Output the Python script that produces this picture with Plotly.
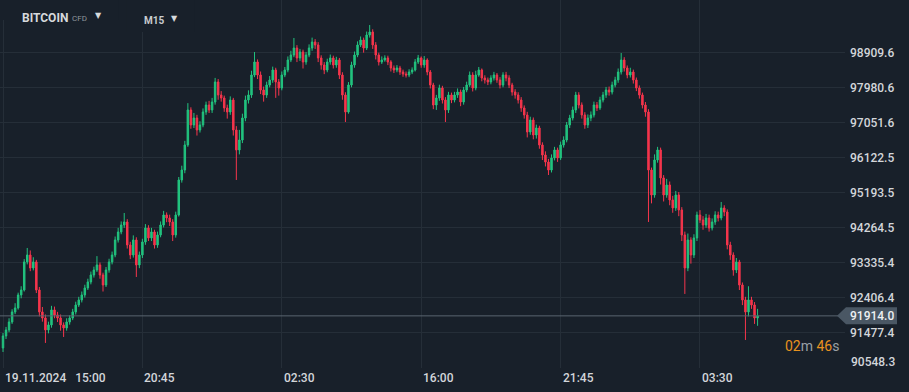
import plotly.graph_objects as go

# ---------------- data (BITCOIN CFD, M15) ----------------
opens = [91062, 91381, 91540, 91752, 92018, 92124, 92469, 92601, 93345, 93530,
         93185, 93345, 92601, 92018, 91858, 91540, 91673, 92071, 91938, 91858,
         91673, 91593, 91752, 91858, 92018, 92203, 92336, 92469, 92654, 92814,
         92999, 93132, 93265, 92999, 92734, 93132, 93345, 93530, 93928, 94141,
         94326, 94406, 93796, 93530, 93928, 93265, 93530, 93875, 94247, 93982,
         94141, 93796, 94061, 94326, 94592, 94512, 94406, 94061, 94592, 95521,
         95786, 96450, 97379, 96981, 97166, 96848, 96981, 97326, 97511, 97379,
         97591, 98122, 97777, 97697, 97432, 97326, 97644, 96848, 96317, 96582,
         97166, 97644, 97777, 98307, 98653, 98307, 97909, 97777, 98042, 98175,
         98440, 98122, 97962, 98307, 98440, 98706, 98838, 99024, 98759, 98918,
         98653, 98838, 99024, 99183, 99104, 98759, 98573, 98440, 98653, 98759,
         98573, 98706, 98307, 97777, 97326, 98042, 98573, 98838, 99104, 99236,
         99024, 99369, 99449, 99104, 98838, 98653, 98706, 98759, 98653, 98493,
         98440, 98493, 98387, 98334, 98307, 98387, 98440, 98653, 98759, 98573,
         98706, 98387, 98042, 97511, 97697, 97962, 97644, 97379, 97777, 97644,
         97777, 97856, 97591, 97909, 98042, 98307, 97962, 98307, 98440, 98228,
         98175, 98122, 98228, 98307, 98175, 98042, 98307, 98228, 98042, 97856,
         97777, 97644, 97432, 97246, 96795, 97113, 96715, 96901, 96450, 96184,
         95998, 95786, 96105, 96317, 96105, 96450, 96582, 96981, 97166, 97379,
         97777, 97511, 97246, 96981, 97166, 97246, 97511, 97432, 97644, 97777,
         97909, 97856, 98042, 98175, 98387, 98706, 98493, 98307, 98387, 98175,
         97962, 97777, 97511, 97326, 95786, 95123, 96052, 96317, 95574, 95123,
         95388, 94990, 94778, 95123, 94725, 94061, 93185, 93928, 93530, 93982,
         94592, 94459, 94326, 94512, 94247, 94406, 94592, 94512, 94778, 94671,
         93796, 93530, 93132, 93345, 92734, 92336, 92018, 92336, 92203, 91858]

highs = [91460, 91620, 91850, 92090, 92250, 92530, 92700, 93420, 93716, 93650,
         93470, 93400, 92680, 92150, 91950, 91760, 92180, 92160, 92020, 91950,
         91740, 91850, 91930, 92100, 92290, 92420, 92560, 92740, 92900, 93090,
         93220, 93500, 93330, 93060, 93210, 93430, 93620, 94020, 94250, 94420,
         94645, 94480, 93880, 94050, 94000, 93620, 93960, 94350, 94320, 94250,
         94200, 94150, 94420, 94700, 94660, 94600, 94480, 94680, 95600, 95900,
         96560, 97560, 97450, 97300, 97250, 97080, 97420, 97600, 97620, 97700,
         98230, 98200, 97880, 97760, 97520, 97740, 97700, 96950, 96850, 97280,
         97760, 97900, 98420, 98918, 98720, 98400, 98000, 98130, 98280, 98530,
         98500, 98200, 98400, 98520, 98800, 98950, 99290, 99100, 99000, 98980,
         98920, 99120, 99300, 99260, 99180, 98830, 98650, 98740, 98850, 98820,
         98790, 98760, 98380, 97850, 98120, 98660, 98930, 99200, 99330, 99300,
         99460, 99634, 99520, 99180, 98900, 98800, 98830, 98820, 98700, 98560,
         98570, 98550, 98450, 98400, 98460, 98510, 98730, 98840, 98800, 98810,
         98750, 98440, 98100, 97780, 98050, 98020, 97720, 97860, 97840, 97860,
         97950, 97920, 97990, 98130, 98400, 98380, 98420, 98520, 98480, 98300,
         98240, 98300, 98390, 98360, 98250, 98380, 98390, 98300, 98100, 97930,
         97850, 97720, 97500, 97330, 97200, 97180, 96990, 96960, 96520, 96280,
         96080, 96200, 96400, 96380, 96540, 96680, 97060, 97250, 97470, 97860,
         97850, 97580, 97320, 97260, 97340, 97600, 97590, 97730, 97860, 97990,
         98000, 98130, 98260, 98480, 98892, 98780, 98560, 98500, 98450, 98240,
         98030, 97840, 97590, 97400, 95850, 96200, 96400, 96380, 95650, 95550,
         95480, 95100, 95230, 95200, 94800, 94150, 94100, 94000, 94080, 94680,
         94720, 94560, 94620, 94600, 94500, 94690, 94680, 94937, 94850, 94740,
         93880, 93600, 93450, 93400, 92800, 92420, 92700, 92420, 92280, 92100]

lows = [90955, 91300, 91480, 91700, 91960, 92080, 92380, 92560, 93280, 93100,
        93120, 92520, 91900, 91760, 91195, 91450, 91600, 91850, 91750, 91520,
        91354, 91520, 91680, 91800, 91950, 92150, 92270, 92400, 92600, 92750,
        92930, 93080, 92900, 92560, 92680, 93060, 93280, 93470, 93860, 94080,
        94250, 93700, 93420, 93460, 92946, 93180, 93450, 93800, 93900, 93900,
        93700, 93720, 94000, 94260, 94400, 94300, 93900, 93990, 94550, 95450,
        95700, 96400, 96880, 96900, 96700, 96780, 96920, 97250, 97300, 97300,
        97520, 97650, 97600, 97330, 97150, 97250, 96700, 95521, 96200, 96500,
        97080, 97550, 97700, 98250, 98200, 97800, 97600, 97700, 97980, 98100,
        97700, 97760, 97900, 98250, 98380, 98650, 98780, 98650, 98680, 98480,
        98580, 98780, 98950, 99000, 98650, 98450, 98330, 98380, 98580, 98480,
        98500, 98200, 97650, 97060, 97280, 97980, 98500, 98780, 99050, 98900,
        98970, 99300, 99000, 98720, 98560, 98600, 98660, 98570, 98400, 98360,
        98380, 98310, 98260, 98240, 98250, 98330, 98400, 98600, 98500, 98500,
        98300, 97950, 97400, 97380, 97620, 97550, 97060, 97300, 97560, 97580,
        97700, 97480, 97520, 97850, 97990, 97870, 97900, 98260, 98140, 98080,
        98040, 98060, 98160, 98100, 97950, 97980, 98140, 97960, 97760, 97680,
        97550, 97330, 97150, 96650, 96720, 96600, 96620, 96350, 96050, 95880,
        95653, 95720, 96040, 96000, 96050, 96380, 96520, 96900, 97100, 97300,
        97420, 97150, 96880, 96900, 97080, 97180, 97350, 97380, 97580, 97700,
        97760, 97790, 97980, 98100, 98320, 98400, 98220, 98240, 98080, 97880,
        97680, 97420, 97200, 94406, 94900, 95050, 95980, 95400, 94950, 95050,
        94850, 94650, 94700, 94560, 93900, 92496, 93100, 93300, 93450, 93900,
        94380, 94200, 94250, 94150, 94180, 94330, 94420, 94450, 94560, 93680,
        93400, 92980, 93050, 92600, 92200, 91274, 91900, 92100, 91700, 91650]

closes = [91381, 91540, 91752, 92018, 92124, 92469, 92601, 93345, 93530, 93185,
          93345, 92601, 92018, 91858, 91540, 91673, 92071, 91938, 91858, 91673,
          91593, 91752, 91858, 92018, 92203, 92336, 92469, 92654, 92814, 92999,
          93132, 93265, 92999, 92734, 93132, 93345, 93530, 93928, 94141, 94326,
          94406, 93796, 93530, 93928, 93265, 93530, 93875, 94247, 93982, 94141,
          93796, 94061, 94326, 94592, 94512, 94406, 94061, 94592, 95521, 95786,
          96450, 97379, 96981, 97166, 96848, 96981, 97326, 97511, 97379, 97591,
          98122, 97777, 97697, 97432, 97326, 97644, 96848, 96317, 96582, 97166,
          97644, 97777, 98307, 98653, 98307, 97909, 97777, 98042, 98175, 98440,
          98122, 97962, 98307, 98440, 98706, 98838, 99024, 98759, 98918, 98653,
          98838, 99024, 99183, 99104, 98759, 98573, 98440, 98653, 98759, 98573,
          98706, 98307, 97777, 97326, 98042, 98573, 98838, 99104, 99236, 99024,
          99369, 99449, 99104, 98838, 98653, 98706, 98759, 98653, 98493, 98440,
          98493, 98387, 98334, 98307, 98387, 98440, 98653, 98759, 98573, 98706,
          98387, 98042, 97511, 97697, 97962, 97644, 97379, 97777, 97644, 97777,
          97856, 97591, 97909, 98042, 98307, 97962, 98307, 98440, 98228, 98175,
          98122, 98228, 98307, 98175, 98042, 98307, 98228, 98042, 97856, 97777,
          97644, 97432, 97246, 96795, 97113, 96715, 96901, 96450, 96184, 95998,
          95786, 96105, 96317, 96105, 96450, 96582, 96981, 97166, 97379, 97777,
          97511, 97246, 96981, 97166, 97246, 97511, 97432, 97644, 97777, 97909,
          97856, 98042, 98175, 98387, 98706, 98493, 98307, 98387, 98175, 97962,
          97777, 97511, 97326, 95786, 95123, 96052, 96317, 95574, 95123, 95388,
          94990, 94778, 95123, 94725, 94061, 93185, 93928, 93530, 93982, 94592,
          94459, 94326, 94512, 94247, 94406, 94592, 94512, 94778, 94671, 93796,
          93530, 93132, 93345, 92734, 92336, 92018, 92336, 92203, 91858, 91914]

bar_index = list(range(len(closes)))

x_tick_pos = [0, 46, 92, 138, 184, 230]
x_tick_labels = ["19.11.2024\u00a0\u00a0 15:00", "20:45", "02:30", "16:00", "21:45", "03:30"]

y_tick_vals = [90548.3, 91477.4, 92406.4, 93335.4, 94264.5, 95193.5, 96122.5,
               97051.6, 97980.6, 98909.6]

last_price = 91914.0
countdown_min = "02"
countdown_sec = "46"

# ---------------- styling ----------------
BG = "#18202a"
GRID = "#252e38"
TXT = "#d3d6da"
UP = "#22c37f"
DOWN = "#f5354c"
FONT = "Roboto"

fig = go.Figure()
fig.add_trace(go.Candlestick(
    x=bar_index, open=opens, high=highs, low=lows, close=closes,
    increasing=dict(line=dict(color=UP, width=1), fillcolor=UP),
    decreasing=dict(line=dict(color=DOWN, width=1), fillcolor=DOWN),
    whiskerwidth=0, hoverinfo="skip", showlegend=False,
))

Y0, Y1 = 90530, 100298
# lowest tick label is drawn separately (nudged up so it stays inside the page)
ticktext = [f"{v:.1f}" for v in y_tick_vals]
ticktext[0] = ""

fig.update_layout(
    width=909, height=392,
    margin=dict(l=0, r=64, t=0, b=24),
    paper_bgcolor=BG, plot_bgcolor=BG,
    showlegend=False, hovermode=False,
    font=dict(family=FONT, color=TXT, size=12),
    xaxis=dict(range=[-0.99, 277.85], tickvals=x_tick_pos, showticklabels=False,
               showgrid=True, gridcolor=GRID, gridwidth=1, zeroline=False,
               showline=False, ticks="", rangeslider=dict(visible=False),
               fixedrange=True),
    yaxis=dict(range=[Y0, Y1], side="right", tickvals=y_tick_vals,
               ticktext=ticktext,
               tickfont=dict(family=FONT, size=12, color=TXT, weight=500),
               showgrid=True, gridcolor=GRID, gridwidth=1, zeroline=False,
               showline=False, ticks="", ticklabelstandoff=4, fixedrange=True),
)

fig.add_annotation(x=1, xref="paper", y=1 - 362 / 368, yref="paper",
                   text=f"{y_tick_vals[0]:.1f}", showarrow=False, xanchor="left",
                   yanchor="middle", xshift=4,
                   font=dict(family=FONT, size=12, color=TXT, weight=500))

# x labels, left-aligned on their grid lines
for pos, lab in zip(x_tick_pos, x_tick_labels):
    fig.add_annotation(x=pos, xref="x", y=0, yref="paper", text=lab,
                       xanchor="left", yanchor="top", showarrow=False,
                       xshift=0, yshift=-1,
                       font=dict(family=FONT, size=12, color=TXT, weight=500))

# header area covers grid tops
fig.add_shape(type="rect", xref="paper", yref="paper", x0=-0.01, x1=0.14,
              y0=1 - 20 / 368, y1=1.01, fillcolor=BG, line=dict(width=0), layer="above")
fig.add_shape(type="rect", xref="paper", yref="paper", x0=0.15, x1=0.23,
              y0=1 - 32 / 368, y1=1.01, fillcolor=BG, line=dict(width=0), layer="above")

fig.add_annotation(x=20 / 845, xref="paper", y=1 - 18 / 368, yref="paper",
                   text="<b>BITCOIN</b>", xanchor="left", yanchor="middle", showarrow=False,
                   font=dict(family=FONT, size=12, color="#d6d9dc"))
fig.add_annotation(x=70 / 845, xref="paper", y=1 - 19 / 368, yref="paper",
                   text="CFD", xanchor="left", yanchor="middle", showarrow=False,
                   font=dict(family=FONT, size=8, color="#8e959c"))
fig.add_annotation(x=98 / 845, xref="paper", y=1 - 16 / 368, yref="paper",
                   text="▼", xanchor="center", yanchor="middle", showarrow=False,
                   font=dict(family="DejaVu Sans", size=8, color="#d6d9dc"))
fig.add_annotation(x=142 / 845, xref="paper", y=1 - 20 / 368, yref="paper",
                   text="<b>M15</b>", xanchor="left", yanchor="middle", showarrow=False,
                   font=dict(family=FONT, size=10, color="#c8ccd0"))
fig.add_annotation(x=174 / 845, xref="paper", y=1 - 18 / 368, yref="paper",
                   text="▼", xanchor="center", yanchor="middle", showarrow=False,
                   font=dict(family="DejaVu Sans", size=8, color="#d6d9dc"))

# last price line and tag
fig.add_shape(type="line", xref="paper", yref="y", x0=0, x1=838 / 845,
              y0=last_price, y1=last_price, line=dict(color="#5a646f", width=1))
half = 8.5 * (Y1 - Y0) / 368
xt, xl, xr = 837 / 845, 846 / 845, 897 / 845
fig.add_shape(type="path", xref="paper", yref="y",
              path=(f"M {xt},{last_price} L {xl},{last_price + half} L {xr},{last_price + half} "
                    f"L {xr},{last_price - half} L {xl},{last_price - half} Z"),
              fillcolor="#4a5764", line=dict(width=0), layer="above")
fig.add_annotation(x=(xl + xr) / 2, xref="paper", y=last_price, yref="y",
                   text=f"{last_price:.1f}", showarrow=False, xanchor="center",
                   yanchor="middle", font=dict(family=FONT, size=12, color="#eef0f2", weight=500))

# countdown
fig.add_annotation(x=841 / 845, xref="paper", y=1 - 346 / 368, yref="paper",
                   text=(f"<span style='color:#e8921f'>{countdown_min}</span>m "
                         f"<span style='color:#e8921f'>{countdown_sec}</span>s"),
                   showarrow=False, xanchor="right", yanchor="middle",
                   font=dict(family=FONT, size=14, color="#9aa0a6"))

fig.write_html(
    "out.html",
    config={"displayModeBar": False},
    post_script=("document.body.style.margin='0';document.body.style.padding='0';"
                 "document.body.style.background='#18202a';"
                 "document.body.style.overflow='hidden';"),
)
